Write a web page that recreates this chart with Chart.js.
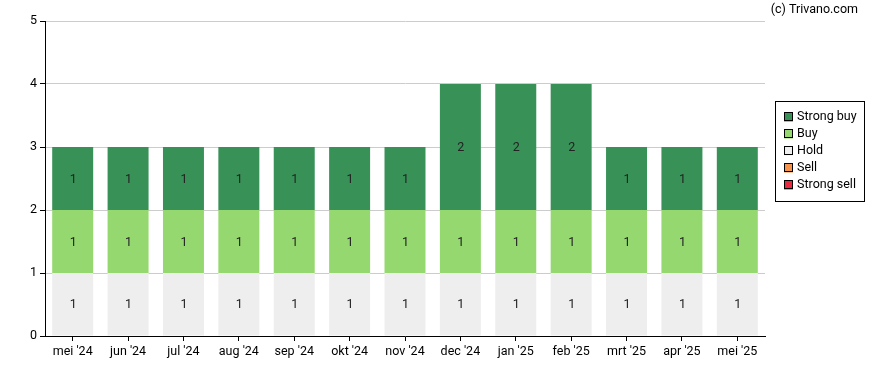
<!DOCTYPE html>
<html>
<head>
<meta charset="utf-8">
<script src="https://cdn.jsdelivr.net/npm/chart.js@4"></script>
<style>
  html, body { margin: 0; padding: 0; background: #fff; }
  #wrap { width: 888px; height: 370px; position: relative; }
</style>
</head>
<body>
<div id="wrap"><canvas id="recChart" width="888" height="370"></canvas></div>
<script>
const months = ["mei '24", "jun '24", "jul '24", "aug '24", "sep '24", "okt '24", "nov '24",
  "dec '24", "jan '25", "feb '25", "mrt '25", "apr '25", "mei '25"];
const strongBuy = [1, 1, 1, 1, 1, 1, 1, 2, 2, 2, 1, 1, 1];
const buy = [1, 1, 1, 1, 1, 1, 1, 1, 1, 1, 1, 1, 1];
const hold = [1, 1, 1, 1, 1, 1, 1, 1, 1, 1, 1, 1, 1];
const sell = [0, 0, 0, 0, 0, 0, 0, 0, 0, 0, 0, 0, 0];
const strongSell = [0, 0, 0, 0, 0, 0, 0, 0, 0, 0, 0, 0, 0];
const yTicks = [0, 1, 2, 3, 4, 5];

const FONT = "Roboto, 'Liberation Sans', sans-serif";

/* labels inside the bars */
const barLabels = {
  id: "barLabels",
  afterDatasetsDraw(chart) {
    const ctx = chart.ctx;
    ctx.save();
    ctx.font = "12.5px " + FONT;
    ctx.fillStyle = "#222";
    ctx.textAlign = "center";
    ctx.textBaseline = "middle";
    chart.data.datasets.forEach((ds, i) => {
      const meta = chart.getDatasetMeta(i);
      meta.data.forEach((bar, j) => {
        const v = ds.data[j];
        if (!v) return;
        ctx.fillText(String(v), bar.x + 0.5, (bar.y + bar.base) / 2 + 1);
      });
    });
    ctx.restore();
  }
};

/* legend box + copyright */
const sideLegend = {
  id: "sideLegend",
  afterDraw(chart) {
    const ctx = chart.ctx;
    ctx.save();
    ctx.font = "12.5px " + FONT;
    ctx.fillStyle = "#000";
    ctx.textAlign = "right";
    ctx.textBaseline = "middle";
    ctx.fillText("(c) Trivano.com", 858, 10);

    const x0 = 775.5, y0 = 101.5, w = 89, h = 100;
    ctx.strokeStyle = "#000";
    ctx.lineWidth = 1;
    ctx.strokeRect(x0, y0, w, h);
    ctx.textAlign = "left";
    const items = chart.data.datasets.slice().reverse();
    items.forEach((ds, i) => {
      const cy = 117 + i * 17;
      ctx.fillStyle = ds.backgroundColor;
      ctx.fillRect(784, cy - 4.5, 9, 9);
      ctx.strokeStyle = "#000";
      ctx.strokeRect(784.5, cy - 4.5, 8, 8);
      ctx.fillStyle = "#000";
      ctx.fillText(ds.label, 797, cy);
    });
    ctx.restore();
  }
};

new Chart(document.getElementById("recChart"), {
  type: "bar",
  data: {
    labels: months,
    datasets: [
      { label: "Strong sell", data: strongSell, backgroundColor: "#e8293f" },
      { label: "Sell", data: sell, backgroundColor: "#f7924a" },
      { label: "Hold", data: hold, backgroundColor: "#eeeeee" },
      { label: "Buy", data: buy, backgroundColor: "#95d86f" },
      { label: "Strong buy", data: strongBuy, backgroundColor: "#389157" }
    ]
  },
  options: {
    responsive: false,
    animation: false,
    devicePixelRatio: 1,
    layout: { padding: { top: 21, right: 123, left: 0, bottom: 0 } },
    datasets: { bar: { barPercentage: 0.74, categoryPercentage: 1 } },
    plugins: { legend: { display: false }, tooltip: { enabled: false } },
    scales: {
      x: {
        stacked: true,
        afterFit(s) { s.height = 34; },
        border: { color: "#000", width: 1 },
        grid: { offset: false, drawOnChartArea: false, drawTicks: true, tickColor: "#000", tickLength: 5 },
        ticks: { color: "#000", font: { size: 12.5, family: FONT }, maxRotation: 0, autoSkip: false, padding: 3 }
      },
      y: {
        stacked: true,
        min: 0,
        max: 5,
        afterFit(s) { s.width = 45; },
        afterBuildTicks(s) { s.ticks = yTicks.map(v => ({ value: v })); },
        border: { color: "#000", width: 1 },
        grid: { color: "#cccccc", tickColor: "#000", tickLength: 5 },
        ticks: { color: "#000", font: { size: 12.5, family: FONT }, padding: 3 }
      }
    }
  },
  plugins: [barLabels, sideLegend]
});
</script>
</body>
</html>
